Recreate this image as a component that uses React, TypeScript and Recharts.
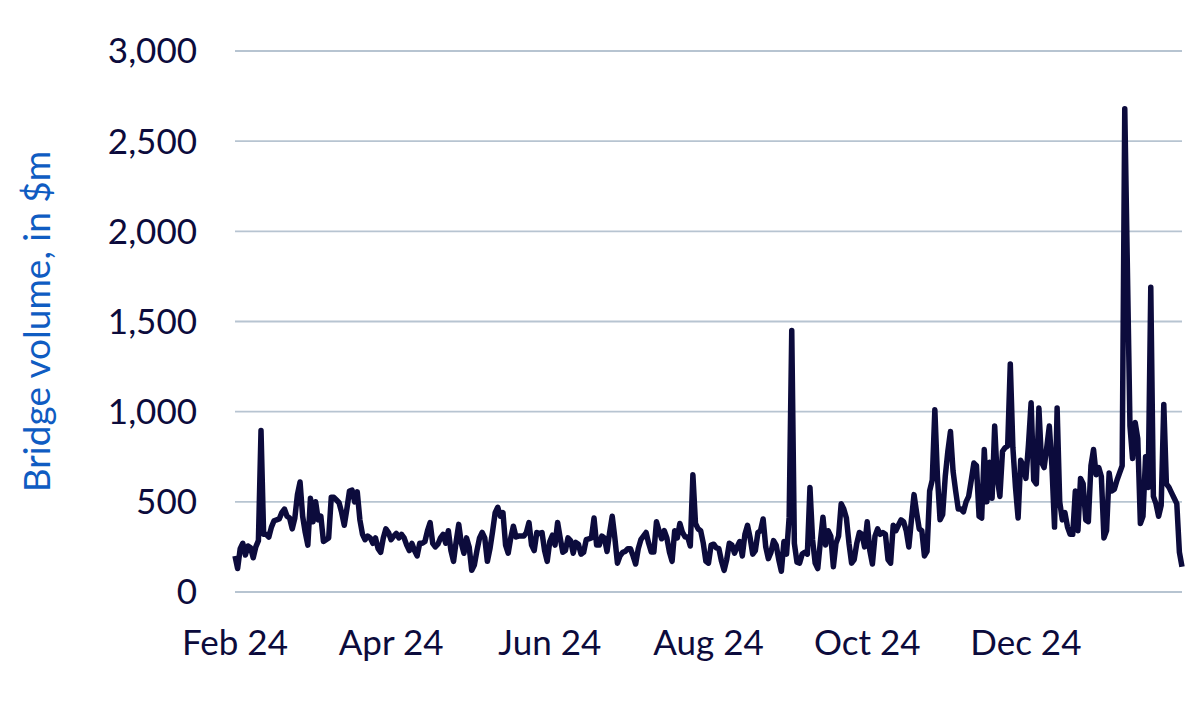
import { LineChart, Line, XAxis, YAxis, CartesianGrid } from "recharts";

// daily bridge volume in $m, starting 1 Feb 2024
const febMar = [
  200, 130, 240, 270, 205, 255, 245, 190, 250, 285,
  895, 320, 320, 305, 360, 395, 400, 405, 440, 460,
  420, 410, 350, 410, 540, 610, 420, 330, 260, 520,
  390, 500, 400, 420, 280, 290, 300, 525, 525, 510,
  495, 440, 370, 460, 560, 565, 500, 555, 400, 320,
  290, 310, 300, 270, 300, 240, 220, 300, 350, 330,
];
const aprMay = [
  290, 310, 325, 300, 320, 300, 260, 230, 270, 230,
  200, 270, 270, 280, 340, 385, 270, 250, 265, 300,
  320, 270, 340, 230, 170, 280, 375, 270, 215, 300,
  250, 120, 150, 230, 300, 330, 300, 170, 240, 335,
  440, 470, 420, 440, 260, 215, 300, 365, 305, 310,
  310, 310, 330, 385, 260, 230, 330, 325, 330, 230,
  170,
];
const junJul = [
  280, 315, 260, 385, 300, 220, 230, 300, 285,
  215, 275, 265, 210, 220, 290, 295, 300, 410, 260,
  260, 310, 300, 225, 330, 420, 300, 160, 200, 220,
  225, 240, 240, 200, 155, 240, 290, 310, 330, 270,
  222, 222, 389, 340, 295, 340, 300, 220, 170, 340,
  300, 380, 330, 305, 305, 255, 650, 380, 350, 340,
  270, 170,
];
const augSep = [
  160, 260, 265, 245, 240, 170, 120, 180,
  270, 260, 215, 250, 280, 200, 320, 370, 300, 210,
  230, 330, 340, 405, 250, 185, 220, 285, 260, 180,
  115, 280, 210, 415, 1450, 270, 165, 160, 210, 220,
  210, 580, 290, 160, 130, 280, 415, 260, 340, 310,
  140, 270, 310, 490, 460, 410, 270, 160, 180, 270,
  330, 320, 250,
];
const octNov = [
  390, 230, 155, 310, 350, 320, 330,
  320, 180, 160, 370, 340, 370, 400, 390, 340, 250,
  400, 540, 440, 350, 340, 200, 225, 560, 620, 1010,
  640, 400, 430, 640, 780, 890, 670, 560, 460, 460,
  445, 500, 530, 620, 715, 700, 420, 410, 790, 500,
  720, 520, 920, 630, 530, 780, 800, 810, 1265, 800,
  580, 410, 730, 700,
];
const decJan = [
  630, 820, 1050, 620, 600, 1020,
  720, 690, 800, 920, 700, 360, 1020, 500, 400, 440,
  360, 320, 320, 560, 340, 630, 600, 400, 390, 700,
  790, 650, 690, 640, 300, 340, 660, 560, 570, 620,
  660, 700, 2680, 1800, 920, 740, 940, 850, 380, 420,
  750, 580, 1690, 530, 490, 420, 480, 1040, 600, 580,
  550, 520, 490, 220, 140,
];

const volumes = [...febMar, ...aprMay, ...junJul, ...augSep, ...octNov, ...decJan];

// day offsets from 1 Feb 2024 for the month ticks
const monthTicks = [0, 60, 121, 182, 243, 304];
const monthLabels = ["Feb 24", "Apr 24", "Jun 24", "Aug 24", "Oct 24", "Dec 24"];
const yTicks = [0, 500, 1000, 1500, 2000, 2500, 3000];

const data = volumes.map((v, i) => ({ day: i, volume: v }));

const FONT = "Lato, 'Open Sans', sans-serif";
const INK = "#0c0b3c";

function AxisTitle(props: any) {
  const vb = props.viewBox || { x: 0, y: 51, width: 235, height: 541 };
  const cx = vb.x + 35;
  const cy = vb.y + vb.height / 2;
  return (
    <text
      x={cx}
      y={cy}
      transform={`rotate(-90, ${cx}, ${cy})`}
      textAnchor="middle"
      dominantBaseline="central"
      fill="#0f5cc2"
      fontSize={37}
      fontFamily={FONT}
    >
      Bridge volume, in $m
    </text>
  );
}

export default function App() {
  return (
    <div style={{ position: "absolute", left: 0, top: 0, background: "#fff" }}>
      <LineChart
        width={1200}
        height={705}
        data={data}
        margin={{ top: 51, right: 18, left: 0, bottom: 53 }}
      >
        <CartesianGrid vertical={false} stroke="#b7c4d1" strokeWidth={1.8} />
        <XAxis
          dataKey="day"
          type="number"
          domain={[0, 364]}
          ticks={monthTicks}
          interval={0}
          tickFormatter={(d) => monthLabels[monthTicks.indexOf(d)] ?? ""}
          axisLine={false}
          tickLine={false}
          tickSize={0}
          tickMargin={38}
          height={60}
          tick={{ fill: INK, fontSize: 35, fontFamily: FONT }}
        />
        <YAxis
          domain={[0, 3000]}
          ticks={yTicks}
          interval={0}
          tickFormatter={(v) => v.toLocaleString("en-US")}
          axisLine={false}
          tickLine={false}
          tickSize={0}
          tickMargin={38}
          width={235}
          tick={{ fill: INK, fontSize: 35, fontFamily: FONT }}
          label={{ content: AxisTitle }}
        />
        <Line
          type="linear"
          dataKey="volume"
          stroke={INK}
          strokeWidth={5.5}
          strokeLinejoin="round"
          dot={false}
          activeDot={false}
          isAnimationActive={false}
        />
      </LineChart>
    </div>
  );
}
